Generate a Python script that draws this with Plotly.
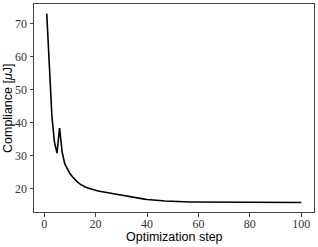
import plotly.graph_objects as go

steps = list(range(1, 101))
compliance = [
    73.0, 57.0, 42.0, 34.0, 30.7, 38.3, 31.0, 27.5, 25.8, 24.5,
    23.5, 22.6, 21.9, 21.3, 20.8, 20.4, 20.1, 19.8, 19.6, 19.4,
    19.2, 19.1, 18.95, 18.8, 18.65, 18.5, 18.35, 18.2, 18.05, 17.9,
    17.75, 17.6, 17.45, 17.3, 17.2, 17.05, 16.95, 16.85, 16.75, 16.65,
    16.55, 16.5, 16.42, 16.35, 16.3, 16.24, 16.18, 16.13, 16.08, 16.04,
    16.0, 15.98, 15.96, 15.94, 15.92, 15.9, 15.89, 15.88, 15.87, 15.86,
    15.85, 15.84, 15.83, 15.82, 15.82, 15.81, 15.8, 15.8, 15.79, 15.79,
    15.78, 15.78, 15.77, 15.77, 15.76, 15.76, 15.76, 15.75, 15.75, 15.75,
    15.74, 15.74, 15.74, 15.73, 15.73, 15.73, 15.72, 15.72, 15.72, 15.72,
    15.71, 15.71, 15.71, 15.71, 15.7, 15.7, 15.7, 15.7, 15.7, 15.7,
]
x_ticks = [0, 20, 40, 60, 80, 100]
y_ticks = [20, 30, 40, 50, 60, 70]
x_title = "Optimization step"
y_title = "Compliance [<i>μ</i>J]"

fig = go.Figure(go.Scatter(x=steps, y=compliance, mode="lines",
                           line=dict(color="black", width=1.6)))

axis_common = dict(showline=True, linecolor="#444", linewidth=1, mirror=True,
                   ticks="outside", ticklen=3.5, tickcolor="#444", tickwidth=0.8,
                   showgrid=False, zeroline=False, automargin=False,
                   tickfont=dict(family="Liberation Serif", size=12, color="#333"))

fig.update_xaxes(range=[-3.95, 104.95], tickvals=x_ticks, ticklabelstandoff=-3,
                 **axis_common)
fig.update_yaxes(range=[12.84, 75.87], tickvals=y_ticks, **axis_common)

title_font = dict(family="Liberation Sans", size=12.5, color="black")
fig.add_annotation(text=x_title, xref="paper", yref="paper", x=0.5, y=0,
                   yshift=-25, xanchor="center", yanchor="middle",
                   showarrow=False, font=title_font)
fig.add_annotation(text=y_title, xref="paper", yref="paper", x=0, y=0.5,
                   xshift=-26, xanchor="center", yanchor="middle", textangle=-90,
                   showarrow=False, font=title_font)

fig.update_layout(width=318, height=247, margin=dict(l=34, r=4, t=4, b=35),
                  plot_bgcolor="white", paper_bgcolor="white", showlegend=False)

fig.write_html("out.html", config={"displayModeBar": False},
               post_script="document.body.style.margin='0';document.body.style.overflow='hidden';")
